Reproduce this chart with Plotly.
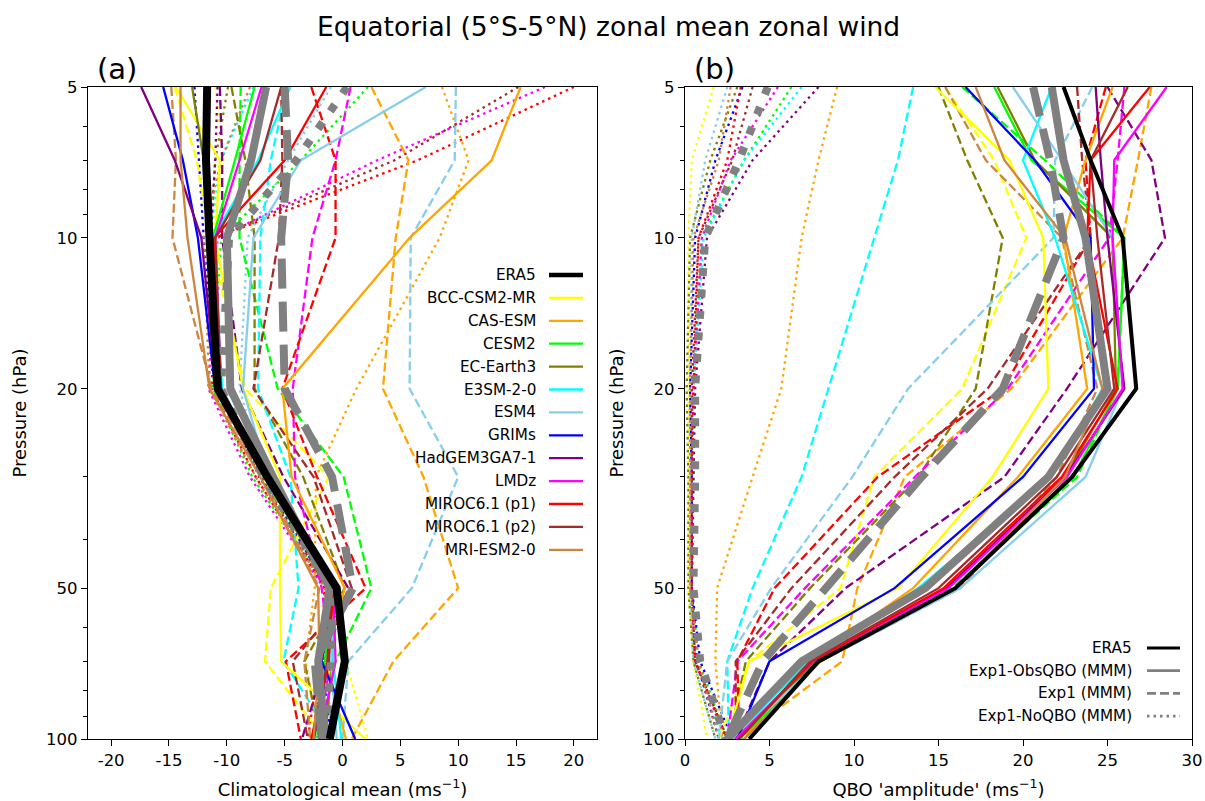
import plotly.graph_objects as go

# ---------------- data ----------------
pressure = [5, 7, 10, 20, 30, 50, 70, 100]

models = ["BCC-CSM2-MR", "CAS-ESM", "CESM2", "EC-Earth3", "E3SM-2-0", "ESM4",
          "GRIMs", "HadGEM3GA7-1", "LMDz", "MIROC6.1 (p1)", "MIROC6.1 (p2)", "MRI-ESM2-0"]
colors = ["#ffff00", "#ffa500", "#00ff00", "#808000", "#00ffff", "#87ceeb",
          "#0000ff", "#800080", "#ff00ff", "#ff0000", "#a52a2a", "#cd853f"]

# ---- panel (a): climatological mean zonal wind (m/s)
era5_mean = [-11.7, -11.8, -11.5, -10.8, -6.5, -0.5, 0.2, -1.1]
mmm_obs_mean = [-6.6, -7.9, -10.0, -9.7, -6.0, -1.1, -2.1, -1.5]
mmm_exp1_mean = [-5.0, -4.7, -5.3, -5.0, -0.9, 0.9, -2.4, -1.8]
mmm_noqbo_mean = [0.4, -4.0, -9.8, -10.5, -6.8, -1.0, -1.0, -1.4]

obs_mean_bcc = [-14.4, -10.6, -11.0, -8.6, -5.4, -5.4, -5.3, 2.0]
obs_mean_cas = [15.4, 12.9, 5.8, -5.2, -4.4, 0.2, -1.5, 0.3]
obs_mean_cesm = [-7.6, -9.3, -11.2, -10.6, -6.8, -1.0, -1.5, -2.4]
obs_mean_ecearth = [-13.0, -12.0, -11.5, -10.9, -6.6, -0.8, -0.9, -1.5]
obs_mean_e3sm = [-4.5, -7.3, -11.2, -10.4, -6.6, -0.8, -0.8, -0.1]
obs_mean_esm4 = [7.2, -3.6, -7.7, -8.6, -6.4, -0.8, -1.0, -0.5]
obs_mean_grims = [-15.5, -13.8, -12.5, -11.0, -6.6, -0.7, -1.8, 1.1]
obs_mean_hadgem = [-17.4, -14.5, -12.2, -10.9, -6.7, -1.0, -1.2, -2.5]
obs_mean_lmdz = [-7.0, -8.9, -11.0, -10.5, -6.5, -0.8, -0.6, -2.0]
obs_mean_miroc1 = [-1.4, -5.0, -11.1, -10.7, -6.5, -0.8, -1.2, -2.7]
obs_mean_miroc2 = [-5.3, -7.1, -11.0, -10.5, -6.4, -1.0, -1.3, -2.5]
obs_mean_mri = [-14.0, -14.0, -13.4, -11.5, -7.1, -2.1, -2.0, -2.5]

exp1_mean_bcc = [-14.5, -12.6, -11.5, -8.4, -1.2, -6.2, -6.7, -1.5]
exp1_mean_cas = [2.5, 5.7, 4.6, 3.5, 7.0, 10.0, 4.4, 0.8]
exp1_mean_cesm = [-8.8, -8.9, -8.9, -5.6, 0.1, 2.5, -0.6, -2.0]
exp1_mean_ecearth = [-9.6, -8.4, -7.6, -7.6, -3.4, 0.2, -3.3, -1.9]
exp1_mean_e3sm = [-4.8, -6.2, -7.1, -7.3, -4.5, -3.8, -5.1, -0.8]
exp1_mean_esm4 = [9.8, 9.7, 5.9, 5.8, 10.0, 6.0, 0.5, 0.0]
exp1_mean_grims = None
exp1_mean_hadgem = [-10.6, -10.4, -10.4, -8.7, -5.1, 0.5, -1.5, -3.5]
exp1_mean_lmdz = [0.7, -0.6, -2.6, -4.3, -4.1, -1.8, -1.0, -2.2]
exp1_mean_miroc1 = [-2.7, -0.6, -0.6, -5.2, -2.2, 2.0, -4.9, -3.6]
exp1_mean_miroc2 = [-5.3, -5.2, -5.5, -7.7, -2.5, 0.8, -4.3, -3.0]
exp1_mean_mri = [-14.8, -14.4, -14.7, -11.3, -6.8, -2.0, -3.3, -2.8]

noqbo_mean_bcc = [-11.0, -10.3, -11.3, -10.7, -6.6, -1.0, 0.3, 2.2]
noqbo_mean_cas = [8.6, 10.9, 8.4, 1.2, -2.3, -2.4, -3.2, -2.0]
noqbo_mean_cesm = [2.2, -3.6, -10.5, -11.2, -7.8, -1.3, -1.3, -2.2]
noqbo_mean_ecearth = [-9.9, -11.0, -11.4, -10.8, -6.8, -1.2, -1.6, -2.0]
noqbo_mean_e3sm = [-7.7, -10.5, -11.5, -10.9, -7.0, -1.3, -1.5, -1.0]
noqbo_mean_esm4 = [-1.0, -4.7, -8.2, -8.9, -6.8, -1.5, -1.3, -1.0]
noqbo_mean_grims = [-12.8, -12.4, -12.0, -11.0, -6.8, -1.3, -1.8, -1.0]
noqbo_mean_hadgem = [-10.8, -11.0, -11.4, -11.0, -7.0, -1.2, -1.3, -2.5]
noqbo_mean_lmdz = [17.5, 3.0, -10.8, -11.6, -8.0, -1.6, -1.4, -2.5]
noqbo_mean_miroc1 = [20.0, 6.5, -11.0, -11.3, -7.5, -1.5, -2.0, -3.0]
noqbo_mean_miroc2 = [15.2, 4.5, -11.0, -10.6, -7.2, -1.3, -1.6, -2.6]
noqbo_mean_mri = [-8.0, -10.5, -12.0, -11.5, -7.5, -1.5, -1.8, -2.5]

# ---- panel (b): QBO 'amplitude' (m/s)
era5_amp = [22.4, 24.0, 25.9, 26.7, 22.9, 16.0, 7.9, 3.8]
mmm_obs_amp = [21.7, 22.4, 23.7, 25.0, 21.5, 14.2, 6.9, 2.5]
mmm_exp1_amp = [20.6, 21.6, 22.4, 18.8, 14.0, 8.3, 4.6, 2.5]
mmm_noqbo_amp = [4.9, 3.2, 1.2, 0.6, 0.6, 0.5, 0.9, 2.4]

obs_amp_bcc = [14.8, 19.2, 21.2, 21.5, 18.2, 12.6, 3.8, 2.5]
obs_amp_cas = [25.3, 23.7, 22.4, 23.8, 19.7, 13.5, 7.3, 3.5]
obs_amp_cesm = [18.3, 20.5, 26.0, 25.6, 23.0, 16.0, 8.0, 3.2]
obs_amp_ecearth = [18.5, 20.7, 25.3, 25.5, 22.5, 15.5, 7.8, 3.0]
obs_amp_e3sm = [21.7, 20.0, 21.9, 24.7, 21.7, 13.8, 7.3, 2.8]
obs_amp_esm4 = [19.4, 22.3, 25.3, 25.9, 23.7, 16.3, 8.0, 3.0]
obs_amp_grims = [16.6, 20.7, 24.0, 24.2, 20.0, 12.4, 5.0, 3.1]
obs_amp_hadgem = [24.3, 24.6, 25.0, 26.0, 22.5, 15.5, 7.6, 3.0]
obs_amp_lmdz = [28.5, 25.4, 25.3, 25.9, 22.6, 15.6, 7.6, 3.0]
obs_amp_miroc1 = [27.5, 24.0, 23.8, 25.6, 22.3, 15.3, 7.5, 3.2]
obs_amp_miroc2 = [26.2, 24.0, 24.4, 25.4, 22.0, 15.0, 7.4, 3.2]
obs_amp_mri = [17.2, 18.9, 22.5, 24.7, 22.5, 16.0, 8.0, 3.5]

exp1_amp_bcc = [15.4, 18.3, 20.2, 16.4, 11.2, 9.2, 3.8, 2.0]
exp1_amp_cas = [27.6, 26.8, 25.9, 19.3, 13.0, 10.2, 9.3, 3.1]
exp1_amp_cesm = [16.4, 21.3, 26.0, 25.6, 23.2, 15.8, 7.8, 3.4]
exp1_amp_ecearth = [15.0, 16.7, 18.8, 17.2, 13.8, 7.4, 3.6, 2.6]
exp1_amp_e3sm = [13.5, 12.6, 11.2, 8.5, 6.9, 4.0, 2.5, 2.6]
exp1_amp_esm4 = [24.1, 21.9, 21.8, 13.2, 9.9, 5.1, 2.5, 2.0]
exp1_amp_grims = None
exp1_amp_hadgem = [25.0, 27.6, 28.4, 22.6, 18.9, 9.5, 5.0, 3.0]
exp1_amp_lmdz = [26.0, 25.6, 25.1, 19.1, 13.6, 7.1, 3.1, 2.5]
exp1_amp_miroc1 = [24.9, 23.7, 24.0, 18.8, 11.4, 5.3, 3.1, 3.2]
exp1_amp_miroc2 = [23.2, 23.5, 24.0, 17.9, 12.4, 6.3, 3.0, 3.0]
exp1_amp_mri = [15.4, 17.8, 22.3, 24.4, 22.0, 16.3, 8.0, 3.5]

noqbo_amp_bcc = [1.7, 0.4, 0.2, 0.2, 0.2, 0.2, 0.5, 1.3]
noqbo_amp_cas = [9.0, 7.9, 6.9, 5.7, 4.0, 1.9, 1.8, 2.2]
noqbo_amp_cesm = [6.3, 3.5, 1.0, 0.5, 0.5, 0.4, 0.8, 2.5]
noqbo_amp_ecearth = [3.1, 1.5, 0.3, 0.1, 0.2, 0.2, 0.5, 1.8]
noqbo_amp_e3sm = [6.9, 3.5, 1.1, 0.5, 0.4, 0.3, 0.6, 2.2]
noqbo_amp_esm4 = [2.5, 1.2, 0.4, 0.3, 0.3, 0.3, 0.5, 1.8]
noqbo_amp_grims = [3.4, 1.8, 0.6, 0.3, 0.4, 0.4, 0.9, 2.8]
noqbo_amp_hadgem = [7.9, 4.0, 1.3, 0.6, 0.5, 0.4, 0.7, 2.0]
noqbo_amp_lmdz = [5.5, 2.7, 1.0, 0.5, 0.4, 0.4, 0.6, 2.4]
noqbo_amp_miroc1 = [3.3, 2.5, 0.8, 0.5, 0.4, 0.4, 0.6, 2.5]
noqbo_amp_miroc2 = [4.0, 2.8, 0.8, 0.4, 0.4, 0.4, 0.6, 2.5]
noqbo_amp_mri = [2.7, 2.0, 0.5, 0.3, 0.3, 0.3, 0.8, 2.0]

obs_mean = [obs_mean_bcc, obs_mean_cas, obs_mean_cesm, obs_mean_ecearth, obs_mean_e3sm, obs_mean_esm4,
            obs_mean_grims, obs_mean_hadgem, obs_mean_lmdz, obs_mean_miroc1, obs_mean_miroc2, obs_mean_mri]
exp1_mean = [exp1_mean_bcc, exp1_mean_cas, exp1_mean_cesm, exp1_mean_ecearth, exp1_mean_e3sm, exp1_mean_esm4,
             exp1_mean_grims, exp1_mean_hadgem, exp1_mean_lmdz, exp1_mean_miroc1, exp1_mean_miroc2, exp1_mean_mri]
noqbo_mean = [noqbo_mean_bcc, noqbo_mean_cas, noqbo_mean_cesm, noqbo_mean_ecearth, noqbo_mean_e3sm, noqbo_mean_esm4,
              noqbo_mean_grims, noqbo_mean_hadgem, noqbo_mean_lmdz, noqbo_mean_miroc1, noqbo_mean_miroc2, noqbo_mean_mri]
obs_amp = [obs_amp_bcc, obs_amp_cas, obs_amp_cesm, obs_amp_ecearth, obs_amp_e3sm, obs_amp_esm4,
           obs_amp_grims, obs_amp_hadgem, obs_amp_lmdz, obs_amp_miroc1, obs_amp_miroc2, obs_amp_mri]
exp1_amp = [exp1_amp_bcc, exp1_amp_cas, exp1_amp_cesm, exp1_amp_ecearth, exp1_amp_e3sm, exp1_amp_esm4,
            exp1_amp_grims, exp1_amp_hadgem, exp1_amp_lmdz, exp1_amp_miroc1, exp1_amp_miroc2, exp1_amp_mri]
noqbo_amp = [noqbo_amp_bcc, noqbo_amp_cas, noqbo_amp_cesm, noqbo_amp_ecearth, noqbo_amp_e3sm, noqbo_amp_esm4,
             noqbo_amp_grims, noqbo_amp_hadgem, noqbo_amp_lmdz, noqbo_amp_miroc1, noqbo_amp_miroc2, noqbo_amp_mri]

mean_ticks = [-20, -15, -10, -5, 0, 5, 10, 15, 20]
amp_ticks = [0, 5, 10, 15, 20, 25, 30]
p_ticks = [5, 10, 20, 50, 100]
p_minor = [6, 7, 8, 9, 30, 40, 60, 70, 80, 90]

# ---------------- styling ----------------
W, H = 1205, 801
FONT = "DejaVu Sans"
THIN = 2.3
DASH = "9px,4px"
DOT = "2.5px,4px"
GW = 8
GDASH = "30px,13px"
GDOT = "8px,13.5px"
TICKF = 16.5
LABF = 18
LEGF = 15.2


def px(x):
    return x / W


def py(y):
    return 1 - y / H


fig = go.Figure()


def add(xvals, axis, color, width, dash):
    if xvals is None:
        return
    fig.add_trace(go.Scatter(
        x=xvals, y=pressure, mode="lines",
        line=dict(color=color, width=width, dash=dash),
        xaxis="x" if axis == 1 else "x2", yaxis="y" if axis == 1 else "y2",
        showlegend=False, hoverinfo="skip"))


for series, dash in ((noqbo_mean, DOT), (exp1_mean, DASH), (obs_mean, "solid")):
    for vals, c in zip(series, colors):
        add(vals, 1, c, THIN, dash)
for series, dash in ((noqbo_amp, DOT), (exp1_amp, DASH), (obs_amp, "solid")):
    for vals, c in zip(series, colors):
        add(vals, 2, c, THIN, dash)

add(mmm_noqbo_mean, 1, "#808080", GW, GDOT)
add(mmm_exp1_mean, 1, "#808080", GW, GDASH)
add(mmm_obs_mean, 1, "#808080", GW, "solid")
add(era5_mean, 1, "#000000", GW, "solid")

add(mmm_noqbo_amp, 2, "#808080", GW, GDOT)
add(mmm_exp1_amp, 2, "#808080", GW, GDASH)
add(mmm_obs_amp, 2, "#808080", GW, "solid")
add(era5_amp, 2, "#000000", 4, "solid")

ydom = [py(739), py(87)]
axis_common = dict(showline=True, linecolor="black", linewidth=1.3, mirror=True,
                   ticks="outside", ticklen=6, tickwidth=1.3, tickcolor="black",
                   showgrid=False, zeroline=False, automargin=False,
                   tickfont=dict(family=FONT, size=TICKF, color="black"))

yaxis_common = dict(axis_common, type="log", range=[2, 0.69897],
                    tickmode="array", tickvals=p_ticks, ticktext=[str(v) for v in p_ticks],
                    minor=dict(tickmode="array", tickvals=p_minor, ticks="outside",
                               ticklen=3.5, tickwidth=1.0, tickcolor="black"),
                    title=dict(text="Pressure (hPa)", font=dict(family=FONT, size=LABF, color="black"),
                               standoff=14),
                    domain=ydom)

fig.update_layout(
    width=W, height=H, margin=dict(l=0, r=0, t=0, b=0),
    paper_bgcolor="white", plot_bgcolor="white",
    font=dict(family=FONT, color="black"),
    xaxis=dict(axis_common, domain=[px(88), px(597)], range=[-22, 22],
               tickmode="array", tickvals=mean_ticks,
               ticktext=[str(v) for v in mean_ticks],
               title=dict(text="Climatological mean (ms<sup>\u22121</sup>)",
                          font=dict(family=FONT, size=LABF, color="black"), standoff=14),
               anchor="y"),
    yaxis=dict(yaxis_common, anchor="x"),
    xaxis2=dict(axis_common, domain=[px(685), px(1192)], range=[0, 30],
                tickmode="array", tickvals=amp_ticks, ticktext=[str(v) for v in amp_ticks],
                title=dict(text="QBO 'amplitude' (ms<sup>\u22121</sup>)",
                           font=dict(family=FONT, size=LABF, color="black"), standoff=14),
                anchor="y2"),
    yaxis2=dict(yaxis_common, anchor="x2"),
)

annotations = [
    dict(text="Equatorial (5\u00b0S-5\u00b0N) zonal mean zonal wind", x=px(608), y=py(27),
         xref="paper", yref="paper", showarrow=False, xanchor="center", yanchor="middle",
         font=dict(family=FONT, size=26.5, color="black")),
    dict(text="(a)", x=px(95), y=py(69), xref="paper", yref="paper", showarrow=False,
         xanchor="left", yanchor="middle", font=dict(family=FONT, size=29, color="black")),
    dict(text="(b)", x=px(692), y=py(69), xref="paper", yref="paper", showarrow=False,
         xanchor="left", yanchor="middle", font=dict(family=FONT, size=29, color="black")),
]
shapes = []

# legend (a): text to the left of the line sample
leg_a_names = ["ERA5"] + models
leg_a_colors = ["#000000"] + colors
for i, (name, c) in enumerate(zip(leg_a_names, leg_a_colors)):
    yy = 275 + 22.9 * i
    annotations.append(dict(text=name, x=px(538), y=py(yy), xref="paper", yref="paper",
                            showarrow=False, xanchor="right", yanchor="middle",
                            font=dict(family=FONT, size=LEGF, color="black")))
    shapes.append(dict(type="line", xref="paper", yref="paper", x0=px(549), x1=px(583),
                       y0=py(yy), y1=py(yy), line=dict(color=c, width=4.5 if i == 0 else 2.3)))

# legend (b)
leg_b_names = ["ERA5", "Exp1-ObsQBO (MMM)", "Exp1 (MMM)", "Exp1-NoQBO (MMM)"]
leg_b_colors = ["#000000", "#808080", "#808080", "#808080"]
leg_b_dash = ["solid", "solid", "9px,4px", "2.5px,4px"]
for i, (name, c, d) in enumerate(zip(leg_b_names, leg_b_colors, leg_b_dash)):
    yy = 648 + 22.7 * i
    annotations.append(dict(text=name, x=px(1134), y=py(yy), xref="paper", yref="paper",
                            showarrow=False, xanchor="right", yanchor="middle",
                            font=dict(family=FONT, size=LEGF, color="black")))
    shapes.append(dict(type="line", xref="paper", yref="paper", x0=px(1147), x1=px(1180),
                       y0=py(yy), y1=py(yy), line=dict(color=c, width=2.8, dash=d)))

fig.update_layout(annotations=annotations, shapes=shapes)
fig.write_html("out.html", config={"displayModeBar": False},
               post_script="document.body.style.margin='0';document.body.style.padding='0';"
                           "document.body.style.overflow='hidden';")
